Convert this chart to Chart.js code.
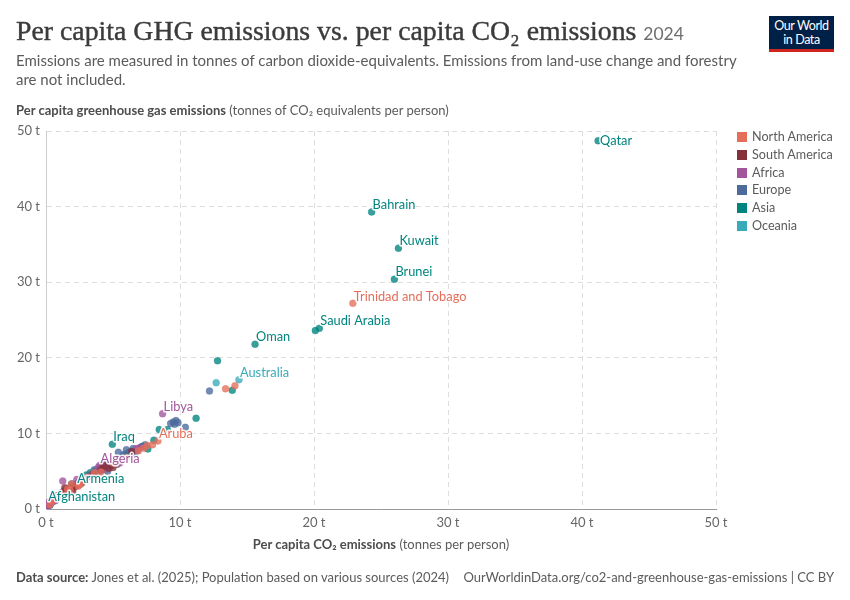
<!DOCTYPE html>
<html>
<head>
<meta charset="utf-8">
<script src="https://cdn.jsdelivr.net/npm/chart.js@4.4.1/dist/chart.umd.min.js"></script>
<style>
  html,body{margin:0;padding:0;background:#fff;}
  #wrap{position:relative;width:850px;height:600px;overflow:hidden;font-family:Lato,"Noto Sans",sans-serif;}
  #c{position:absolute;left:0;top:0;}
  .abs{position:absolute;white-space:nowrap;}
  #title{left:16px;top:13px;font-family:"Liberation Serif",serif;font-size:27.8px;color:#3b3b3b;line-height:36px;-webkit-text-stroke:0.4px #3b3b3b;}
  #title .yr{font-family:Lato,sans-serif;font-size:17.5px;color:#6e6e6e;-webkit-text-stroke:0;}
  #sub{left:16px;top:51px;font-size:15px;color:#5b5b5b;line-height:18.5px;}
  #ytitle{left:16px;top:102px;font-size:13px;color:#5b5b5b;line-height:16px;}
  #xtitle{left:0;width:762px;text-align:center;top:536px;font-size:13px;color:#5b5b5b;line-height:16px;}
  b{font-weight:700;color:#4d4d4d;}
  #foot{left:16px;top:569px;font-size:13px;color:#5b5b5b;line-height:16px;}
  #foot2{right:16px;top:569px;font-size:13px;color:#5b5b5b;line-height:16px;}
  #logo{left:769px;top:16px;width:65px;height:30px;background:#002147;border-bottom:3px solid #ce261e;color:#fff;text-align:center;font-size:12.5px;line-height:14px;padding-top:3px;box-sizing:content-box;letter-spacing:-0.4px;}
  #legend{left:737px;top:129px;font-size:12.6px;color:#5b5b5b;}
  #legend div{height:17.8px;line-height:16px;position:relative;padding-left:15px;}
  #legend span{position:absolute;left:0;top:3px;width:10px;height:10px;}
</style>
</head>
<body>
<div id="wrap">
  <canvas id="c" width="850" height="600"></canvas>
  <div class="abs" id="title">Per capita GHG emissions vs. per capita CO₂ emissions <span class="yr">2024</span></div>
  <div class="abs" id="sub">Emissions are measured in tonnes of carbon dioxide-equivalents. Emissions from land-use change and forestry<br>are not included.</div>
  <div class="abs" id="ytitle"><b>Per capita greenhouse gas emissions</b> (tonnes of CO₂ equivalents per person)</div>
  <div class="abs" id="xtitle"><b>Per capita CO₂ emissions</b> (tonnes per person)</div>
  <div class="abs" id="foot"><b>Data source:</b> Jones et al. (2025); Population based on various sources (2024)</div>
  <div class="abs" id="foot2">OurWorldinData.org/co2-and-greenhouse-gas-emissions | CC BY</div>
  <div class="abs" id="logo">Our World<br>in Data</div>
  <div class="abs" id="legend"></div>
</div>
<script>
// ---- data ----
const regions = ['North America','South America','Africa','Europe','Asia','Oceania'];
const regionColors = ['#E56E5A','#883039','#A2559C','#4C6A9C','#00847E','#38AABA'];
const xTicks = [0,10,20,30,40,50];
const yTicks = [0,10,20,30,40,50];

// [CO2 per capita, GHG per capita]; first entries align with the name lists
const northAmerica = [[22.9,27.2],[8.35,9.0],[13.4,15.9],[14.1,16.3],[7.55,8.4],[7.95,8.5],[7.3,8.05],[6.9,7.7],[3.0,4.2],[2.5,3.2],[1.8,2.5],[1.0,1.6],[0.5,1.1],[3.6,4.8],[5.2,6.0],[2.6,3.4],[1.6,2.6],[1.1,1.9],[0.3,0.6],[2.4,3.0],[5.0,6.1],[1.9,3.3],[4.1,4.9],[6.0,6.8]];
const northAmericaNames = ['Trinidad and Tobago','Aruba'];
const southAmerica = [[4.3,5.7],[4.7,5.4],[2.4,3.2],[1.9,2.8],[2.0,2.4],[1.5,2.3],[1.3,2.0],[3.5,4.6],[5.0,5.5],[0.9,1.8],[2.7,3.5],[4.1,5.2],[2.2,3.0],[1.4,2.8],[6.4,7.6]];
const southAmericaNames = [];
const africa = [[8.7,12.6],[4.0,5.75],[1.25,3.7],[6.75,8.0],[2.5,3.4],[1.9,2.7],[3.4,4.5],[5.5,6.1],[2.3,3.9],[1.5,2.6],[1.0,1.9],[0.8,1.6],[0.6,1.3],[0.5,1.0],[0.4,1.1],[0.3,0.8],[0.2,0.6],[0.15,0.5],[0.1,0.4],[0.1,0.3],[0.05,0.2],[0.2,0.9],[0.3,0.7],[0.5,1.4],[0.7,1.1],[4.3,5.9],[3.9,5.5],[1.2,2.2],[0.05,0.45],[0.12,0.25],[2.0,3.3],[4.5,5.3],[7.0,8.1]];
const africaNames = ['Libya','Algeria'];
const europe = [[12.2,15.6],[10.4,10.8],[9.3,11.3],[9.5,11.5],[9.7,11.7],[9.85,11.4],[9.6,11.2],[7.1,8.2],[6.5,8.0],[6.0,7.85],[5.4,7.5],[6.3,7.6],[5.8,7.2],[6.8,7.7],[7.4,8.5],[5.0,6.1],[4.9,5.8],[4.5,5.6],[4.2,5.2],[4.0,5.0],[3.8,4.9],[3.4,4.6],[3.2,4.3],[2.8,3.8],[4.6,5.0],[5.3,5.9],[6.6,7.3],[4.4,5.9],[3.6,5.2],[2.1,3.0],[5.6,6.6]];
const europeNames = [];
const asia = [[41.2,48.7],[24.3,39.3],[26.3,34.5],[26.0,30.4],[20.4,23.9],[15.6,21.8],[4.95,8.55],[2.25,3.1],[0.1,0.65],[20.1,23.6],[12.8,19.6],[13.9,15.7],[11.2,12.0],[8.45,10.5],[9.05,10.5],[8.05,9.1],[7.6,7.95],[6.1,7.4],[5.4,6.3],[4.6,5.8],[4.3,5.3],[3.7,5.1],[3.0,4.5],[2.6,4.0],[2.0,3.0],[1.8,2.8],[1.6,2.5],[1.3,2.3],[1.1,2.0],[0.9,1.8],[0.6,1.3],[0.4,0.9],[0.25,0.6],[0.3,0.5],[7.2,8.3],[5.9,7.1],[3.3,4.8],[2.4,3.5],[0.8,1.5],[1.9,3.3],[4.0,5.4],[5.0,6.0]];
const asiaNames = ['Qatar','Bahrain','Kuwait','Brunei','Saudi Arabia','Oman','Iraq','Armenia','Afghanistan'];
const oceania = [[14.4,17.1],[12.7,16.7],[4.9,6.0],[6.3,7.3],[1.4,2.3],[0.8,1.6],[1.1,1.9],[0.5,1.0],[2.6,3.3],[1.9,2.6]];
const oceaniaNames = ['Australia'];

const seriesPoints = [northAmerica, southAmerica, africa, europe, asia, oceania];
const seriesNames = [northAmericaNames, southAmericaNames, africaNames, europeNames, asiaNames, oceaniaNames];
const sideLabels = ['Qatar']; // labels placed to the right of the point rather than above

// ---- legend ----
const lg = document.getElementById('legend');
regions.forEach((r,i)=>{
  const d=document.createElement('div');
  d.innerHTML='<span style="background:'+regionColors[i]+'"></span>'+r;
  lg.appendChild(d);
});

function hexA(h,a){const n=parseInt(h.slice(1),16);return `rgba(${n>>16},${(n>>8)&255},${n&255},${a})`;}

const datasets = seriesPoints.map((pts,i)=>({
  label: regions[i],
  data: pts.map(p=>({x:p[0],y:p[1]})),
  backgroundColor: hexA(regionColors[i],0.78),
  borderColor: hexA(regionColors[i],0.85),
  borderWidth: 0.3,
  pointRadius: 3.5,
  pointHoverRadius: 3.5
}));

const labelPlugin = {
  id:'pointLabels',
  afterDatasetsDraw(chart){
    const ctx=chart.ctx, xs=chart.scales.x, ys=chart.scales.y;
    ctx.save();
    ctx.font='12.8px Lato, sans-serif';
    ctx.textBaseline='middle';
    ctx.textAlign='left';
    ctx.lineJoin='round';
    seriesNames.forEach((names,si)=>{
      names.forEach((nm,k)=>{
        if(!nm) return;
        const p=seriesPoints[si][k];
        let px=xs.getPixelForValue(p[0]), py=ys.getPixelForValue(p[1]);
        if(sideLabels.includes(nm)){px+=2;} else {px+=1;py-=7;}
        ctx.strokeStyle='rgba(255,255,255,0.9)';
        ctx.lineWidth=3;
        ctx.strokeText(nm,px,py);
        ctx.fillStyle=regionColors[si];
        ctx.fillText(nm, px, py);
      });
    });
    ctx.restore();
  }
};

const tickFont = {family:'Lato', size:13};
new Chart(document.getElementById('c'),{
  type:'scatter',
  data:{datasets},
  options:{
    responsive:false,
    animation:false,
    devicePixelRatio:1,
    layout:{padding:{left:0,top:131,right:134,bottom:71}},
    plugins:{legend:{display:false},tooltip:{enabled:false}},
    scales:{
      x:{
        type:'linear',min:0,max:50,
        afterBuildTicks(s){s.ticks=xTicks.map(v=>({value:v}));},
        afterFit(s){s.height=20;},
        ticks:{font:tickFont,color:'#666',padding:6,callback:v=>v+' t',maxRotation:0},
        grid:{color:'#dddddd',drawTicks:false,lineWidth:1},
        border:{display:true,color:'#999',dash:[5,4],width:1}
      },
      y:{
        type:'linear',min:0,max:50,
        afterBuildTicks(s){s.ticks=yTicks.map(v=>({value:v}));},
        afterFit(s){s.width=46;},
        ticks:{font:tickFont,color:'#666',padding:6,callback:v=>v+' t'},
        grid:{color:'#dddddd',drawTicks:false,lineWidth:1},
        border:{display:true,color:'#ccc',dash:[5,4],width:1}
      }
    }
  },
  plugins:[labelPlugin]
});
</script>
</body>
</html>
